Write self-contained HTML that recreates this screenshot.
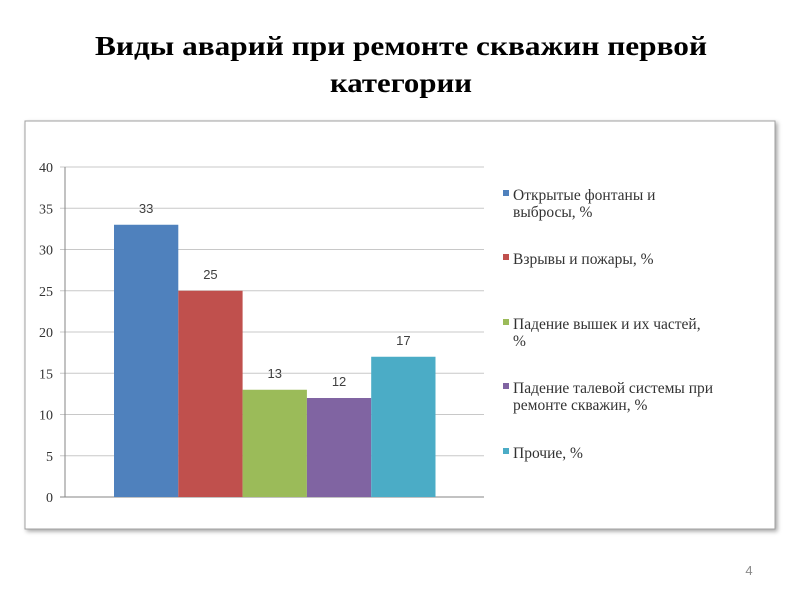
<!DOCTYPE html>
<html><head><meta charset="utf-8"><style>
html,body{margin:0;padding:0;background:#fff;width:800px;height:600px;overflow:hidden}
</style></head><body>
<svg id="s" width="800" height="600" xmlns="http://www.w3.org/2000/svg">
<defs><filter id="sh" x="-5%" y="-5%" width="110%" height="110%"><feDropShadow dx="2" dy="2" stdDeviation="2" flood-color="#000" flood-opacity="0.35"/></filter></defs>
<text x="401" y="55" text-anchor="middle" textLength="612" lengthAdjust="spacingAndGlyphs" font-family="Liberation Serif, serif" font-weight="bold" font-size="27" fill="#000">Виды аварий при ремонте  скважин первой</text>
<text x="401" y="92" text-anchor="middle" textLength="142" lengthAdjust="spacingAndGlyphs" font-family="Liberation Serif, serif" font-weight="bold" font-size="27" fill="#000">категории</text>
<rect x="25" y="121" width="750" height="408" fill="#fff" stroke="#a0a0a0" stroke-width="1" filter="url(#sh)"/>
<g id="plot"></g>
<g id="legend"></g>
<text x="749" y="575" text-anchor="middle" font-family="Liberation Sans, sans-serif" font-size="13" fill="#8a8a8a">4</text>
</svg>
<script>
const categories=["Открытые фонтаны и выбросы, %","Взрывы и пожары, %","Падение вышек и их частей, %","Падение талевой системы при ремонте скважин, %","Прочие, %"];
const values=[33,25,13,12,17];
const colors=["#4f81bd","#c0504d","#9bbb59","#8064a2","#4bacc6"];
const ticks=[0,5,10,15,20,25,30,35,40];
const legendLines=[["Открытые фонтаны и","выбросы, %"],["Взрывы и пожары, %"],["Падение вышек и их частей,","%"],["Падение талевой системы при","ремонте скважин, %"],["Прочие, %"]];
const NS="http://www.w3.org/2000/svg";
const x0=65,x1=484,yTop=167,yBot=497,barStart=114,barW=64.3;
const y=v=>yBot-(v/40)*(yBot-yTop);
const xb=i=>barStart+i*barW;
const plot=document.getElementById('plot'),leg=document.getElementById('legend');
function mk(tag,attrs,parent){const e=document.createElementNS(NS,tag);for(const k in attrs)e.setAttribute(k,attrs[k]);parent.appendChild(e);return e;}
ticks.forEach(t=>{
  const l=mk('line',{x1:x0-5,x2:x1,y1:y(t),y2:y(t),stroke:t===0?'#868686':'#c8c8c8','stroke-width':1},plot);
  
  
  const tx=mk('text',{x:53,y:y(t)+5,'text-anchor':'end','font-family':'Liberation Serif, serif','font-size':14,fill:'#333'},plot);
  tx.textContent=t;
  
  
});
const ax=mk('line',{x1:x0,x2:x0,y1:yTop,y2:yBot,stroke:'#868686','stroke-width':1},plot);


values.forEach((v,i)=>{
  const r=mk('rect',{x:xb(i),y:y(v),width:barW,height:yBot-y(v),fill:colors[i]},plot);
  
  
  const t=mk('text',{x:xb(i)+barW/2,y:y(v)-12,'text-anchor':'middle','font-family':'Liberation Sans, sans-serif','font-size':13,fill:'#404040'},plot);
  t.textContent=v;
  
  
});
const ly=[200,264,329,393,458];
legendLines.forEach((lines,i)=>{
  const g=mk('g',{},leg);
  
  
  mk('rect',{x:503,y:ly[i]-10,width:6,height:6,fill:colors[i]},g);
  lines.forEach((s,j)=>{
    const t=mk('text',{x:513,y:ly[i]+j*17,'font-family':'Liberation Serif, serif','font-size':15.5,fill:'#333'},g);
    t.textContent=s;
  });
});
</script>
</body></html>
